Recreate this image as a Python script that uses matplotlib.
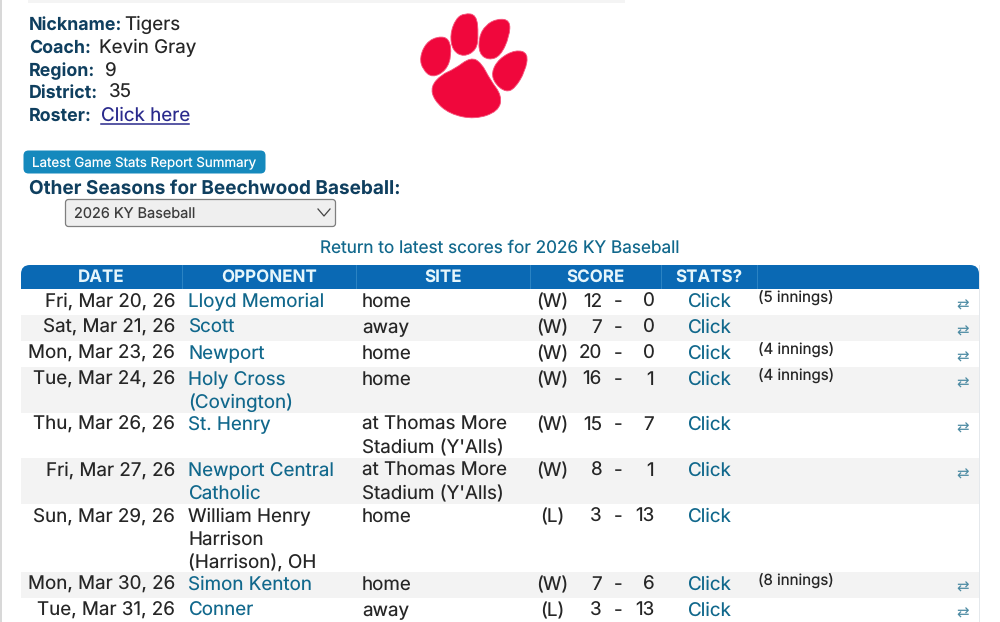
import matplotlib
matplotlib.use("Agg")
import matplotlib.pyplot as plt
from matplotlib.patches import Rectangle, FancyBboxPatch, PathPatch
from matplotlib.path import Path

plt.rcParams['font.family'] = ['Inter', 'DejaVu Sans']
plt.rcParams['text.hinting'] = 'none'
plt.rcParams['text.hinting_factor'] = 1

dates = ["Fri, Mar 20, 26", "Sat, Mar 21, 26", "Mon, Mar 23, 26", "Tue, Mar 24, 26", "Thu, Mar 26, 26",
         "Fri, Mar 27, 26", "Sun, Mar 29, 26", "Mon, Mar 30, 26", "Tue, Mar 31, 26"]
opponents = ["Lloyd Memorial", "Scott", "Newport", "Holy Cross\n(Covington)", "St. Henry",
             "Newport Central\nCatholic", "William Henry\nHarrison\n(Harrison), OH", "Simon Kenton", "Conner"]
has_link = [True, True, True, True, True, True, False, True, True]
sites = ["home", "away", "home", "home", "at Thomas More\nStadium (Y'Alls)",
         "at Thomas More\nStadium (Y'Alls)", "home", "home", "away"]
results = ["(W)", "(W)", "(W)", "(W)", "(W)", "(W)", "(L)", "(W)", "(L)"]
runs_for = [12, 7, 20, 16, 15, 8, 3, 7, 3]
runs_against = [0, 0, 0, 1, 7, 1, 13, 6, 13]
notes = ["(5 innings)", "", "(4 innings)", "(4 innings)", "", "", "", "(8 innings)", ""]

headers = ["DATE", "OPPONENT", "SITE", "SCORE", "STATS?", ""]
info_labels = ["Nickname:", "Coach:", "Region:", "District:", "Roster:"]
info_values = ["Tigers", "Kevin Gray", "9", "35", "Click here"]

NAVY = "#0f3f5f"
TEAL = "#11688c"
BODY = "#262626"
HEAD = "#0a69b4"
PX = 0.72  # css px to pt at dpi 100
BODY_SIZE = 18.8 * PX


def blob(points):
    # closed quadratic curve through the midpoints, so the paw has no corners
    n = len(points)
    mid = [((points[i][0] + points[(i + 1) % n][0]) / 2, (points[i][1] + points[(i + 1) % n][1]) / 2) for i in range(n)]
    verts = [mid[-1]]
    codes = [Path.MOVETO]
    for i in range(n):
        verts += [points[i], mid[i]]
        codes += [Path.CURVE3, Path.CURVE3]
    return Path(verts, codes)


fig = plt.figure(figsize=(10, 6.22), dpi=100)
ax = fig.add_axes([0, 0, 1, 1])
ax.set_xlim(0, 1000)
ax.set_ylim(622, 0)
ax.axis('off')

# page edges
ax.add_patch(Rectangle((0, 0), 1.5, 622, color="#d8d8d8", lw=0))
ax.add_patch(Rectangle((28, 0), 597, 3, color="#f4f4f4", lw=0))
ax.add_patch(Rectangle((979, 265), 1, 357, color="#e4e8ec", lw=0))

# info block
label_x = 29
value_x = [124, 99, 104, 109, 101]
for y, lab, val, vx in zip([30, 53, 76, 98, 121], info_labels, info_values, value_x):
    ax.text(label_x, y, lab, fontsize=17.8 * PX, fontweight='bold', color=NAVY, va='baseline')
    ax.text(vx, y, val, fontsize=BODY_SIZE, color="#2a2a8c" if val == "Click here" else BODY, va='baseline')
ax.plot([101, 189], [124, 124], color="#2a2a8c", lw=1.1)

RED = "#f0073c"
paw_parts = [
    [(110, 105), (145, 112), (152, 165), (135, 212), (92, 235), (62, 210), (52, 172), (72, 125)],
    [(192, 33), (230, 38), (236, 100), (230, 148), (190, 170), (155, 150), (147, 100), (165, 50)],
    [(295, 50), (335, 55), (333, 105), (305, 167), (268, 180), (238, 160), (237, 108), (258, 70)],
    [(352, 147), (392, 158), (382, 215), (350, 268), (322, 280), (288, 255), (276, 218), (300, 175)],
    [(212, 170), (245, 188), (272, 240), (310, 292), (298, 340), (225, 365), (145, 348), (97, 305),
     (87, 262), (120, 225), (160, 208)],
]
for part in paw_parts:
    pts = [(474 + 0.96 * (400 + px / 3 - 474), 65.5 + 0.96 * (py / 3 - 65.5)) for px, py in part]
    ax.add_patch(PathPatch(blob(pts), fc=RED, ec="#f5527a", lw=0.6))

# button and select
ax.add_patch(FancyBboxPatch((25, 152), 239, 20, boxstyle="round,pad=1.5,rounding_size=5", fc="#1589bd", ec="none"))
ax.text(144.5, 166, "Latest Game Stats Report Summary", fontsize=13.35 * PX, color="white", ha='center', va='baseline')
ax.text(29, 194, "Other Seasons for Beechwood Baseball:", fontsize=19 * PX, fontweight='bold', color=NAVY, va='baseline')
ax.add_patch(FancyBboxPatch((66, 200), 269, 26, boxstyle="round,pad=0.5,rounding_size=3", fc="#efefef", ec="#7f7f7f", lw=0.9))
ax.text(74, 219, "2026 KY Baseball", fontsize=14.5 * PX, color="#3c3c3c", va='baseline')
ax.plot([318, 324, 330], [209, 216, 209], color="#444444", lw=0.9)
ax.text(500, 253, "Return to latest scores for 2026 KY Baseball", fontsize=17.2 * PX, color=TEAL, ha='center', va='baseline')

# table header
ax.add_patch(FancyBboxPatch((21, 265), 958, 34, boxstyle="round,pad=0,rounding_size=9", fc=HEAD, ec="none"))
col_edges = [21, 182, 356, 530, 661, 757, 979]
for i, h in enumerate(headers):
    ax.text((col_edges[i] + col_edges[i + 1]) / 2, 282, h, fontsize=17 * PX, fontweight='bold', color="#e6f6fb", ha='center', va='baseline')
    if i > 0:
        ax.plot([col_edges[i]] * 2, [265, 288], color="#2d84c4", lw=0.7)

# table rows
top = 289
for i in range(len(dates)):
    nlines = max(opponents[i].count("\n"), sites[i].count("\n")) + 1
    height = max(26, 22.75 * nlines)
    if i == 8:
        height = 25
    ax.add_patch(Rectangle((21, top), 958, height, color="#f3f3f3" if i % 2 else "white", lw=0))
    base = round(top + 18)
    ax.text(175, base, dates[i], fontsize=BODY_SIZE, color=BODY, ha='right', va='baseline')
    for k, line in enumerate(opponents[i].split("\n")):
        ax.text(188, base + 23 * k, line, fontsize=BODY_SIZE, color=TEAL if has_link[i] else BODY, va='baseline')
    for k, line in enumerate(sites[i].split("\n")):
        ax.text(362, base + 23 * k, line, fontsize=BODY_SIZE, color=BODY, va='baseline')
    ax.text(552, base, results[i], fontsize=BODY_SIZE, color=BODY, ha='center', va='baseline')
    ax.text(602, base, str(runs_for[i]), fontsize=BODY_SIZE, color=BODY, ha='right', va='baseline')
    ax.text(618, base, "-", fontsize=BODY_SIZE, color=BODY, ha='center', va='baseline')
    ax.text(654, base, str(runs_against[i]), fontsize=BODY_SIZE, color=BODY, ha='right', va='baseline')
    ax.text(709, base, "Click", fontsize=BODY_SIZE, color=TEAL, ha='center', va='baseline')
    if notes[i]:
        ax.text(758, round(top + 14), notes[i], fontsize=15.1 * PX, color=BODY, va='baseline')
    # the row without a linked opponent has no compare arrows
    if has_link[i]:
        ax.text(963, top + 16, "\u21c4", fontsize=15 * PX, color="#4d8ba3", ha='center', va='center', family='DejaVu Sans')
    top += height

fig.savefig("out.png", dpi=100)
